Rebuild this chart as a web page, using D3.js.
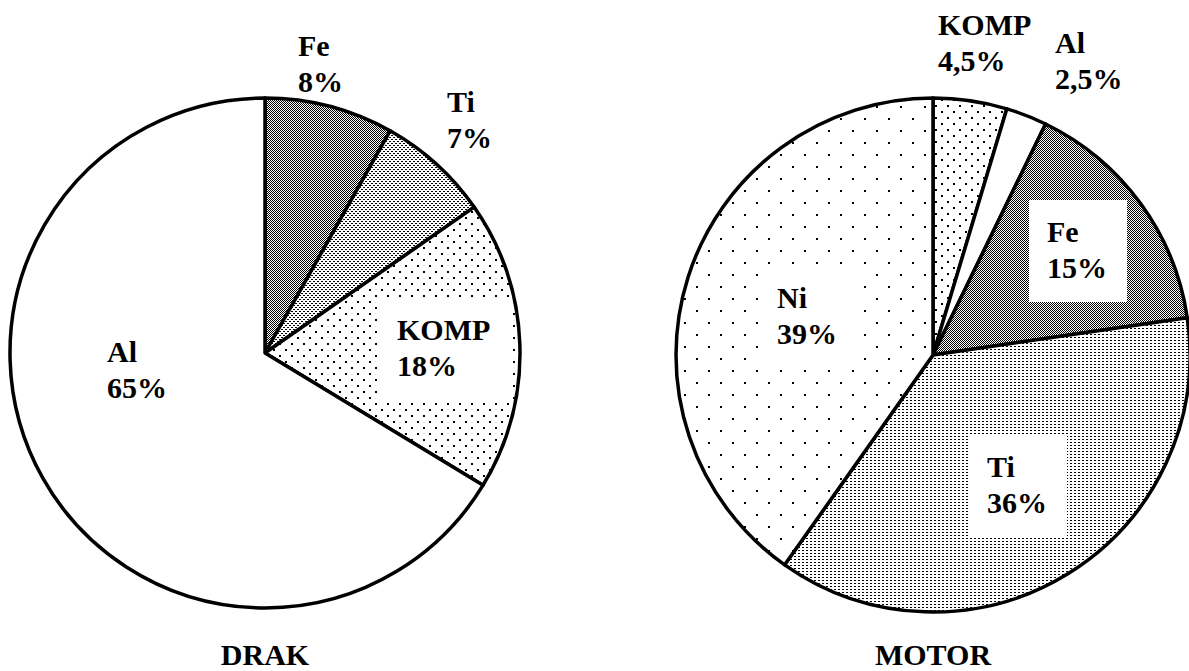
<!DOCTYPE html>
<html>
<head>
<meta charset="utf-8">
<script src="https://cdn.jsdelivr.net/npm/d3@7"></script>
<style>
  html, body { margin: 0; padding: 0; background: #fff; }
  svg { display: block; }
</style>
</head>
<body>
<div id="chart"></div>
<script>
/* global d3 */

// DRAK pie
var drakCategories = ["Fe", "Ti", "KOMP", "Al"];
var drakValues = [8, 7, 18, 65];

// MOTOR pie
var motorCategories = ["KOMP", "Al", "Fe", "Ti", "Ni"];
var motorValues = [4.5, 2.5, 15, 36, 39];

var titles = ["DRAK", "MOTOR"];

var width = 1189,
  height = 671;

// fill pattern per material, per chart
var drakFills = { Fe: "checker", Ti: "dense", KOMP: "sparse", Al: "white" };
var motorFills = { KOMP: "sparse", Al: "white", Fe: "checker", Ti: "denseFine", Ni: "verySparse" };

// label anchor offsets from the pie centre (layout only)
var drakLabels = {
  Fe: { dx: 33, dy: -297, box: false },
  Ti: { dx: 182, dy: -241, box: false },
  KOMP: { dx: 132, dy: -13, box: true },
  Al: { dx: -158, dy: 9, box: false }
};
var motorLabels = {
  KOMP: { dx: 5, dy: -320, box: false },
  Al: { dx: 122, dy: -302, box: false },
  Fe: { dx: 114, dy: -113, box: true },
  Ti: { dx: 54, dy: 122, box: true },
  Ni: { dx: -156, dy: -47, box: true }
};

var serif = "'Liberation Serif', 'DejaVu Serif', 'Noto Serif', Times, serif";

var svg = d3.select("#chart").append("svg")
  .attr("width", width)
  .attr("height", height)
  .attr("font-family", serif)
  .attr("font-weight", "bold")
  .attr("font-size", 30);

var defs = svg.append("defs");

function addPattern(id, w, h, dots, dw, dh) {
  var p = defs.append("pattern")
    .attr("id", id)
    .attr("patternUnits", "userSpaceOnUse")
    .attr("width", w)
    .attr("height", h);
  p.append("rect").attr("width", w).attr("height", h).attr("fill", "#fff");
  dots.forEach(function (d) {
    p.append("rect")
      .attr("x", d[0]).attr("y", d[1])
      .attr("width", dw).attr("height", dh)
      .attr("fill", "#000");
  });
}

addPattern("checker", 2, 2, [[0, 0], [1, 1]], 1, 1);
addPattern("dense", 4, 4, [[0, 0], [2, 2]], 2, 1);
addPattern("denseFine", 4, 3, [[1, 0]], 2, 1);
addPattern("sparse", 12, 12, [[2, 2], [8, 8]], 2, 2);
addPattern("verySparse", 24, 24, [[3, 3], [15, 15]], 2, 2);

var fmt = d3.formatLocale({ decimal: ",", thousands: ".", grouping: [3], currency: ["", ""] }).format("");

var pie = d3.pie().sort(null).value(function (d) { return d.value; });

function drawPie(cx, cy, r, categories, values, fills, labels, title) {
  var data = categories.map(function (c, i) { return { name: c, value: values[i] }; });
  var arc = d3.arc().innerRadius(0).outerRadius(r);

  var g = svg.append("g").attr("transform", "translate(" + cx + "," + cy + ")");

  g.selectAll(".slice")
    .data(pie(data))
    .enter().append("path")
    .attr("class", "slice")
    .attr("d", arc)
    .attr("fill", function (d) {
      var f = fills[d.data.name];
      return f === "white" ? "#fff" : "url(#" + f + ")";
    })
    .attr("stroke", "#000")
    .attr("stroke-width", 3.5)
    .attr("stroke-linejoin", "round");

  var lab = g.selectAll(".lab")
    .data(data)
    .enter().append("g")
    .attr("class", "lab");

  lab.each(function (d) {
    var L = labels[d.name];
    var sel = d3.select(this);
    var t = sel.append("text").attr("x", L.dx).attr("y", L.dy).attr("font-family", serif);
    t.append("tspan").attr("x", L.dx).text(d.name);
    t.append("tspan").attr("x", L.dx).attr("dy", 36).text(fmt(d.value) + "%");
    if (L.box) {
      var b = t.node().getBBox();
      sel.insert("rect", "text")
        .attr("x", b.x - 18)
        .attr("y", b.y - 15)
        .attr("width", b.width + 38)
        .attr("height", b.height + 33)
        .attr("fill", "#fff");
    }
  });

  svg.append("text")
    .attr("x", cx)
    .attr("y", 665)
    .attr("text-anchor", "middle")
    .attr("font-family", serif)
    .text(title);
}

drawPie(265, 353, 255, drakCategories, drakValues, drakFills, drakLabels, titles[0]);
drawPie(933, 355, 257, motorCategories, motorValues, motorFills, motorLabels, titles[1]);
</script>
</body>
</html>
